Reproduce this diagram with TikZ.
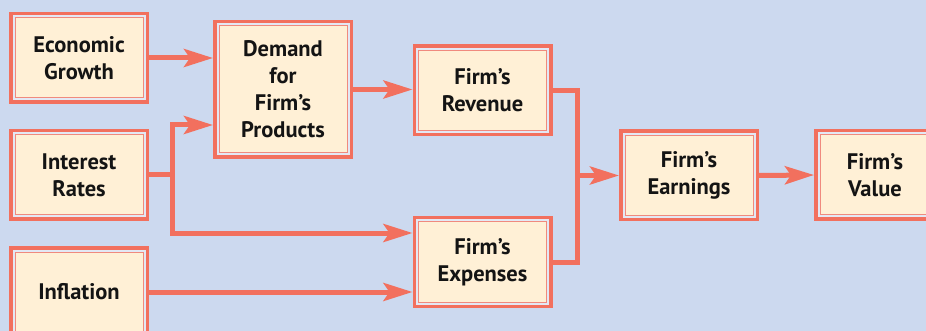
\documentclass[tikz,border=0pt]{standalone}
\usepackage{fontspec}
\setmainfont{PT Sans}
\usetikzlibrary{arrows.meta}
\definecolor{bg}{HTML}{CCD9EF}
\definecolor{salmon}{HTML}{F2705E}
\definecolor{band}{HTML}{E3E8F4}
\definecolor{cream}{HTML}{FFF0D6}
\definecolor{innerl}{HTML}{F08A7E}
\tikzset{
  box/.style={draw=salmon, line width=3.5pt, fill=band, minimum width=136.5pt,
    minimum height=88.5pt, inner sep=0pt, align=center,
    font=\fontsize{22.5}{27}\selectfont\bfseries, text=black!92,
    path picture={\draw[innerl, line width=1pt, fill=cream]
      ([shift={(4.25pt,-4.25pt)}]path picture bounding box.north west) rectangle
      ([shift={(-4.25pt,4.25pt)}]path picture bounding box.south east);}},
  wire/.style={line width=5pt, salmon},
  arr/.style={wire, -{Stealth[length=29pt,width=18pt,inset=6pt]}}
}
\begin{document}
\begin{tikzpicture}[x=1pt,y=-1pt]
\fill[bg] (0,0) rectangle (926,331);
\useasboundingbox (0,0) rectangle (926,331);
\begin{scope}
\clip (0,0) rectangle (926,331);
\node[box] (EG) at (79,58) {Economic\\Growth};
\node[box, minimum height=135.5pt] (DM) at (283,89.5) {Demand\\for\\Firm’s\\Products};
\node[box] (IR) at (79,175) {Interest\\Rates};
\node[box] (INF) at (79,292) {Inflation};
\node[box] (REV) at (482.5,90.5) {Firm’s\\Revenue};
\node[box] (EXP) at (482.5,262) {Firm’s\\Expenses};
\node[box] (EARN) at (689,175.5) {Firm’s\\Earnings};
\node[box, minimum width=118.5pt] (VAL) at (875,175) {Firm’s\\Value};

\draw[arr] (EG.east) -- (EG.east -| DM.west);
\coordinate (sp) at (IR.east -| 172,0);
\draw[wire] (IR.east) -- (sp);
\draw[arr] (sp) |- (DM.west |- 0,125);
\draw[arr] (sp) |- (EXP.west |- 0,233);
\draw[arr] (INF.east) -- (INF.east -| EXP.west);
\draw[arr] (DM.east) -- (DM.east -| REV.west);
\coordinate (mg) at (REV.east -| 577,0);
\draw[wire] (REV.east) -- (mg) |- (EXP.east);
\draw[arr] (mg |- EARN.west) -- (EARN.west);
\draw[arr] (EARN.east) -- (VAL.west);
\end{scope}
\end{tikzpicture}
\end{document}
